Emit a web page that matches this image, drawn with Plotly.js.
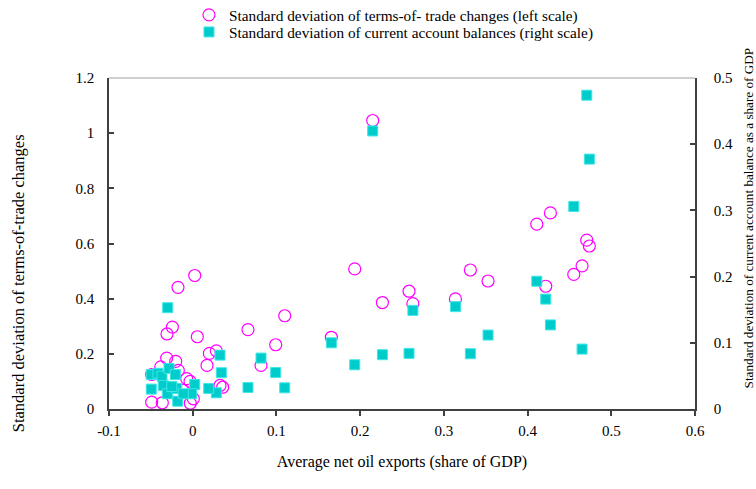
<!DOCTYPE html>
<html>
<head>
<meta charset="utf-8">
<script src="https://cdn.plot.ly/plotly-3.0.1.min.js"></script>
<style>html,body{margin:0;padding:0;background:#fff;}#chart{width:756px;height:489px;}</style>
</head>
<body>
<div id="chart"></div>
<script>
// Average net oil exports (share of GDP) for the terms-of-trade series
const totX = [0.215, 0.1935, 0.2266, 0.2584, 0.263, 0.3138, 0.3317, 0.1656, 0.1099, 0.0991, 0.0816, 0.066,
  0.3528, 0.411, 0.4273, 0.4707, 0.4738, 0.4651, 0.4552, 0.4217,
  0.0024, -0.0176, -0.0243, -0.0307, 0.0055, 0.0282, 0.0199, 0.0171, -0.0311, -0.0203, 0.0326, 0.0358,
  -0.049, -0.0363, -0.0029, -0.049, -0.0032, -0.0382, -0.0172, -0.0072, 0.0007, -0.0112];
// Standard deviation of terms-of-trade changes (left scale)
const totSD = [1.046, 0.508, 0.386, 0.427, 0.382, 0.399, 0.504, 0.26, 0.338, 0.233, 0.158, 0.288,
  0.464, 0.67, 0.711, 0.612, 0.591, 0.519, 0.488, 0.445,
  0.484, 0.441, 0.297, 0.272, 0.262, 0.211, 0.2015, 0.158, 0.1845, 0.1725, 0.0853, 0.079,
  0.0247, 0.0225, 0.021, 0.125, 0.1, 0.153, 0.14, 0.11, 0.037, 0.067];

// Average net oil exports (share of GDP) for the current-account series
const caX = [0.215, 0.263, 0.314, 0.1656, 0.1935, 0.2266, 0.2584, 0.3317, 0.0816, 0.0991, 0.1099, 0.066,
  0.4707, 0.4738, 0.4552, 0.411, 0.4217, 0.4273, 0.3528, 0.4651,
  -0.0299, 0.0326, 0.0342, 0.0282, 0.0191, 0.0024, -0.0012, -0.0179, -0.0495, -0.0495, -0.0415, -0.0367,
  -0.0283, -0.0208, -0.0351, -0.0303, -0.0191, -0.0112, -0.025];
// Standard deviation of current account balances (right scale)
const caSD = [0.42, 0.149, 0.1546, 0.1, 0.0668, 0.082, 0.084, 0.0835, 0.0769, 0.0552, 0.032, 0.0325,
  0.474, 0.3775, 0.306, 0.193, 0.166, 0.127, 0.1117, 0.0905,
  0.153, 0.0814, 0.0548, 0.0245, 0.031, 0.037, 0.023, 0.0118, 0.03, 0.052, 0.054, 0.0496,
  0.0613, 0.052, 0.0356, 0.023, 0.031, 0.023, 0.034];

const xTickVals = [-0.1, 0, 0.1, 0.2, 0.3, 0.4, 0.5, 0.6];
const xTickText = ['-0.1', '0', '0.1', '0.2', '0.3', '0.4', '0.5', '0.6'];
const yTickVals = [0, 0.2, 0.4, 0.6, 0.8, 1, 1.2];
const yTickText = ['0', '0.2', '0.4', '0.6', '0.8', '1', '1.2'];
const y2TickVals = [0, 0.1, 0.2, 0.3, 0.4, 0.5];
const y2TickText = ['0', '0.1', '0.2', '0.3', '0.4', '0.5'];

const FONT = '"Liberation Serif", "Times New Roman", serif';
const AX = '#404040';

const traces = [
  {
    type: 'scatter', mode: 'markers', x: totX, y: totSD, yaxis: 'y', legend: 'legend',
    name: 'Standard deviation of terms-of- trade changes (left scale)',
    marker: {symbol: 'circle-open', size: 12, color: '#FF00FF', line: {width: 1.2, color: '#FF00FF'}}
  },
  {
    type: 'scatter', mode: 'markers', x: caX, y: caSD, yaxis: 'y2', legend: 'legend2',
    name: 'Standard deviation of current account balances (right scale)',
    marker: {symbol: 'square', size: 10, color: '#00CCCC', line: {width: 1, color: '#3FE6E6'}}
  }
];

const legendBase = {
  xanchor: 'left', yanchor: 'middle', xref: 'paper', yref: 'paper',
  font: {family: FONT, size: 15.3, color: '#000'},
  itemwidth: 30, bgcolor: 'rgba(0,0,0,0)', borderwidth: 0
};

const layout = {
  width: 756, height: 489,
  margin: {l: 109, r: 61, t: 78, b: 80, pad: 0, autoexpand: false},
  paper_bgcolor: '#fff', plot_bgcolor: '#fff',
  font: {family: FONT, size: 15, color: '#000'},
  showlegend: true,
  legend: Object.assign({}, legendBase, {x: 0.1365, y: 1.1906}),
  legend2: Object.assign({}, legendBase, {x: 0.1365, y: 1.139}),
  xaxis: {
    range: [-0.1, 0.6], tickmode: 'array', tickvals: xTickVals, ticktext: xTickText,
    showline: true, linecolor: AX, linewidth: 1.5, ticks: 'outside', ticklen: 5, tickcolor: AX, tickwidth: 1.5,
    showgrid: false, zeroline: false, tickfont: {family: FONT, size: 15}, ticklabelstandoff: 2,
    title: {text: 'Average net oil exports (share of GDP)', font: {family: FONT, size: 16}, standoff: 18}
  },
  yaxis: {
    range: [0, 1.2], tickmode: 'array', tickvals: yTickVals, ticktext: yTickText,
    showline: true, linecolor: AX, linewidth: 1.5, ticks: 'inside', ticklen: 5, tickcolor: AX, tickwidth: 1.5,
    showgrid: false, zeroline: false, tickfont: {family: FONT, size: 15}, ticklabelstandoff: 10
  },
  yaxis2: {
    range: [0, 0.5], overlaying: 'y', side: 'right', tickmode: 'array', tickvals: y2TickVals, ticktext: y2TickText,
    showline: true, linecolor: AX, linewidth: 1.5, ticks: 'inside', ticklen: 5, tickcolor: AX, tickwidth: 1.5,
    showgrid: false, zeroline: false, tickfont: {family: FONT, size: 15}, ticklabelstandoff: 14
  },
  shapes: [
    {type: 'line', xref: 'paper', yref: 'paper', x0: 0, x1: 1, y0: 1, y1: 1, line: {color: '#A0A0A0', width: 1}}
  ],
  annotations: [
    {text: 'Standard deviation of terms-of-trade changes', xref: 'paper', yref: 'paper',
     x: -0.153, y: 0.381, xanchor: 'center', yanchor: 'middle', textangle: -90, showarrow: false,
     font: {family: FONT, size: 16.5, color: '#000'}},
    {text: 'Standard deviation of current account balance as a share of GDP', xref: 'paper', yref: 'paper',
     x: 1.0905, y: 0.576, xanchor: 'center', yanchor: 'middle', textangle: -90, showarrow: false,
     font: {family: FONT, size: 13.2, color: '#000'}}
  ]
};

Plotly.newPlot('chart', traces, layout, {displayModeBar: false, responsive: false});
</script>
</body>
</html>
